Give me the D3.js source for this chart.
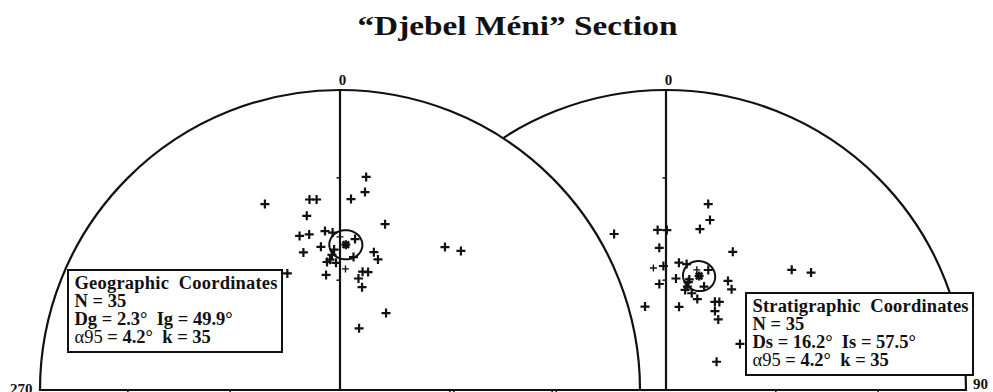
<!DOCTYPE html>
<html>
<head>
<meta charset="utf-8">
<script src="https://cdn.jsdelivr.net/npm/d3@7"></script>
<style>
  html, body { margin: 0; padding: 0; background: #fff; }
  svg { display: block; }
  text { font-family: "Liberation Serif", "Times New Roman", serif; fill: #111; }
</style>
</head>
<body>
<svg id="chart" width="993" height="392"></svg>
<script>
// Section title
const titleText = "“Djebel Méni” Section";

// Site-mean directions, geographic coordinates (declination, inclination in degrees)
const geoDec = [7.0, 7.2, 3.3, 338.0, 350.9, 353.0, 349.2, 15.2, 345.3, 348.8,
                354.6, 357.3, 352.4, 345.1, 0.0, 5.7, 357.6, 355.6, 358.2, 5.8,
                2.6, 353.1, 13.8, 16.2, 10.8, 13.4, 9.4, 12.1, 30.9, 17.2,
                335.7, 36.3, 41.0, 356.6, 354.2];
const geoInc = [29.2, 33.9, 36.4, 33.6, 35.9, 36.2, 40.6, 42.2, 45.9, 46.1,
                45.8, 46.4, 50.2, 50.8, 47.7, 48.1, 51.3, 54.1, 55.1, 53.3,
                56.8, 58.3, 50.9, 52.6, 57.0, 56.8, 59.1, 61.3, 65.6, 72.5,
                54.9, 40.6, 38.5, 52.8, 54.7];

// Same directions after tilt correction (stratigraphic coordinates)
const strDec = [12.8, 14.5, 11.9, 341.6, 357.0, 0.3, 357.3, 25.8, 354.1, 358.8,
                5.8, 9.3, 5.1, 356.4, 14.4, 19.4, 11.9, 11.7, 10.8, 14.9,
                19.0, 20.2, 29.6, 33.1, 345.9, 8.9, 29.0, 31.2, 31.8, 36.5,
                46.3, 51.0, 58.1, 60.8, 11.7];
const strInc = [36.6, 41.1, 44.4, 44.4, 45.6, 45.7, 50.8, 47.6, 56.4, 56.0,
                54.9, 55.0, 59.4, 61.0, 56.0, 55.1, 59.1, 61.2, 62.2, 62.7,
                63.8, 59.9, 55.6, 57.1, 66.6, 67.1, 62.5, 61.9, 64.7, 66.1,
                41.6, 37.8, 66.3, 74.3, 59.9];

// Samples plotted with a thin cross
const geoThin = [14, 20];
const strThin = [8, 14];

// Fisher statistics
const geoStats = { n: 35, dec: 2.3, inc: 49.9, a95: 4.2, k: 35 };
const strStats = { n: 35, dec: 16.2, inc: 57.5, a95: 4.2, k: 35 };

// Azimuth labels and inclination ticks along the axes
const azLabels = ["0", "90", "270"];
const tickInc = [30, 60];

const R = 300;
const svg = d3.select("#chart");
const rad = Math.PI / 180;

// Equal-area radius: sqrt(2)·sin(colatitude/2), 0 at centre, 1 at the primitive
const rScale = d3.scaleLinear().domain([0, 1]).range([0, R]);
const eqArea = inc => Math.SQRT2 * Math.sin((90 - inc) * rad / 2);

function project(net, dec, inc) {
  const r = rScale(eqArea(inc));
  return [net.cx + r * Math.sin(dec * rad), net.cy - r * Math.cos(dec * rad)];
}

// Small circle of angular radius a95 around the mean direction
function coneRing(dec, inc, a95) {
  const c = (90 - inc) * rad, d = dec * rad, a = a95 * rad;
  const m = [Math.sin(c) * Math.sin(d), Math.sin(c) * Math.cos(d), Math.cos(c)];
  const u = [Math.cos(c) * Math.sin(d), Math.cos(c) * Math.cos(d), -Math.sin(c)];
  const v = [Math.cos(d), -Math.sin(d), 0];
  return d3.range(0, 361, 5).map(t => {
    const tt = t * rad;
    const p = [0, 1, 2].map(i => Math.cos(a) * m[i] + Math.sin(a) * (Math.cos(tt) * u[i] + Math.sin(tt) * v[i]));
    const colat = Math.acos(Math.max(-1, Math.min(1, p[2]))) / rad;
    const dd = Math.atan2(p[0], p[1]) / rad;
    return [dd, 90 - colat];
  });
}

function drawNet(net) {
  const g = svg.append("g");

  // Upper half of the primitive circle, filled so it hides anything behind it
  const arc = d3.arc().innerRadius(0).outerRadius(R)
    .startAngle(-Math.PI / 2).endAngle(Math.PI / 2);
  g.append("path")
    .attr("transform", `translate(${net.cx},${net.cy})`)
    .attr("d", arc())
    .attr("fill", "#fff").attr("stroke", "#111").attr("stroke-width", 2.2);

  // N–S axis
  g.append("line")
    .attr("x1", net.cx).attr("x2", net.cx)
    .attr("y1", net.cy - R).attr("y2", net.cy)
    .attr("stroke", "#111").attr("stroke-width", 2.2);

  // Inclination ticks on the N axis and below the E–W diameter
  tickInc.forEach(inc => {
    const r = rScale(eqArea(inc));
    g.append("line")
      .attr("x1", net.cx - 3.5).attr("x2", net.cx)
      .attr("y1", net.cy - r).attr("y2", net.cy - r)
      .attr("stroke", "#111").attr("stroke-width", 1.5);
    [-1, 1].forEach(s => {
      g.append("line")
        .attr("x1", net.cx + s * r).attr("x2", net.cx + s * r)
        .attr("y1", net.cy).attr("y2", net.cy + 5)
        .attr("stroke", "#111").attr("stroke-width", 1.5);
    });
  });

  // North label
  g.append("text")
    .attr("x", net.cx + 2.5).attr("y", net.cy - R - 5.5)
    .attr("text-anchor", "middle")
    .attr("font-size", 15).attr("font-weight", "bold")
    .text(azLabels[0]);

  // Individual directions
  const pts = net.dec.map((d, i) => ({ p: project(net, d, net.inc[i]), thin: net.thin.includes(i) }));
  g.selectAll("path.dir").data(pts).join("path")
    .attr("class", "dir")
    .attr("transform", d => `translate(${d.p[0]},${d.p[1]})`)
    .attr("d", d => d.thin ? "M-3.5,0H3.5M0,-3.5V3.5" : "M-4.5,0H4.5M0,-4.5V4.5")
    .attr("stroke", "#111")
    .attr("stroke-width", d => d.thin ? 1.4 : 2.2);

  // Mean direction with its 95% confidence cone
  const ring = coneRing(net.stats.dec, net.stats.inc, net.stats.a95).map(([d, i]) => project(net, d, i));
  g.append("path")
    .attr("d", d3.line()(ring))
    .attr("fill", "none").attr("stroke", "#111").attr("stroke-width", 2);
  const mp = project(net, net.stats.dec, net.stats.inc);
  g.append("path")
    .attr("transform", `translate(${mp[0]},${mp[1]})`)
    .attr("d", "M-4.5,0H4.5M0,-4.5V4.5M-3.3,-3.3L3.3,3.3M-3.3,3.3L3.3,-3.3")
    .attr("stroke", "#111").attr("stroke-width", 2.4);

  // Statistics box
  const b = net.box;
  g.append("rect")
    .attr("x", b.x).attr("y", b.y).attr("width", b.w).attr("height", 82)
    .attr("fill", "#fff").attr("stroke", "#111").attr("stroke-width", 2);
  const t = g.append("text")
    .attr("font-size", 18.5).attr("font-weight", "bold")
    .style("white-space", "pre");
  const tx = b.x + 6.5;
  t.append("tspan").attr("x", tx).attr("y", b.y + 19)
    .attr("textLength", b.w - 11).attr("lengthAdjust", "spacing").text(net.name);
  t.append("tspan").attr("x", tx).attr("y", b.y + 37).text(`N = ${net.stats.n}`);
  t.append("tspan").attr("x", tx).attr("y", b.y + 55)
    .text(`D${net.sub} = ${net.stats.dec.toFixed(1)}°  I${net.sub} = ${net.stats.inc.toFixed(1)}°`);
  const last = t.append("tspan").attr("x", tx).attr("y", b.y + 73);
  last.append("tspan").attr("font-weight", "normal").text("α95");
  last.append("tspan").text(` = ${net.stats.a95.toFixed(1)}°  k = ${net.stats.k}`);
}

// Tilt-corrected net sits behind the geographic one
drawNet({ cx: 666, cy: 390, dec: strDec, inc: strInc, thin: strThin, stats: strStats,
          name: "Stratigraphic  Coordinates", sub: "s", box: { x: 746, y: 293, w: 227 } });
drawNet({ cx: 340, cy: 390, dec: geoDec, inc: geoInc, thin: geoThin, stats: geoStats,
          name: "Geographic  Coordinates", sub: "g", box: { x: 68, y: 270, w: 214 } });

// E–W azimuth labels
svg.append("text").attr("x", 10).attr("y", 394)
  .attr("font-size", 15).attr("font-weight", "bold").text(azLabels[2]);
svg.append("text").attr("x", 973).attr("y", 389)
  .attr("font-size", 15).attr("font-weight", "bold").text(azLabels[1]);

// Title
svg.append("text")
  .attr("transform", "translate(517.5,34.5) scale(1.19,1)")
  .attr("text-anchor", "middle")
  .attr("font-size", 28).attr("font-weight", "bold")
  .text(titleText);
</script>
</body>
</html>
